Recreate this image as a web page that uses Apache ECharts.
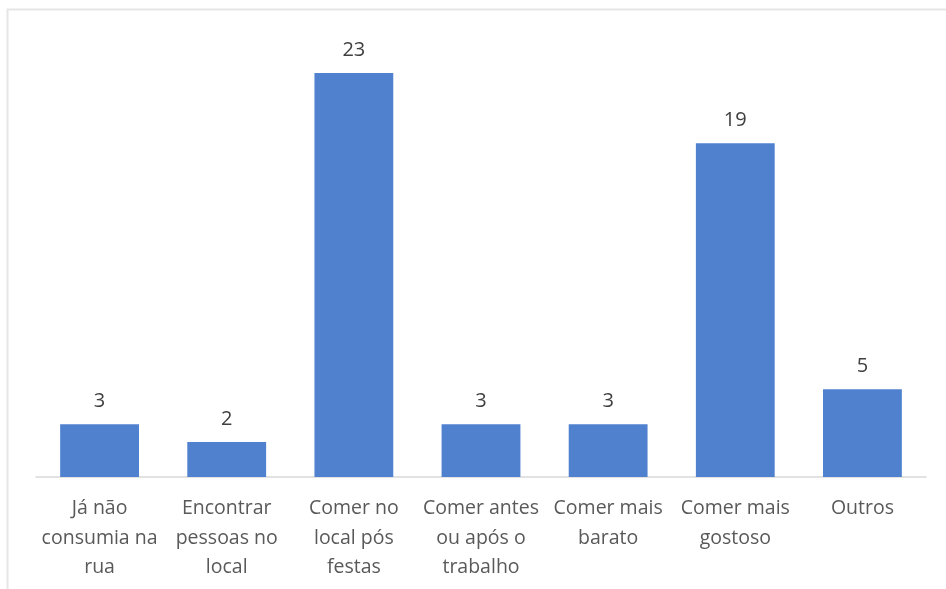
<!DOCTYPE html>
<html>
<head>
<meta charset="utf-8">
<script src="https://cdn.jsdelivr.net/npm/echarts@6/dist/echarts.min.js"></script>
<style>html,body{margin:0;padding:0;background:#fff}#c{width:946px;height:589px}</style>
</head>
<body>
<div id="c"></div>
<script>
const categories = ['Já não\nconsumia na\nrua', 'Encontrar\npessoas no\nlocal', 'Comer no\nlocal pós\nfestas', 'Comer antes\nou após o\ntrabalho', 'Comer mais\nbarato', 'Comer mais\ngostoso', 'Outros'];
const values = [3, 2, 23, 3, 3, 19, 5];

const chart = echarts.init(document.getElementById('c'));
chart.setOption({
  animation: false,
  backgroundColor: '#fff',
  graphic: [{
    type: 'rect', shape: {x: 7.5, y: 9.5, width: 960, height: 600},
    style: {fill: 'none', stroke: '#e6e6e6', lineWidth: 2}, silent: true
  }],
  grid: {left: 36, right: 20, top: 38, bottom: 112},
  xAxis: {
    type: 'category', data: categories,
    axisLine: {lineStyle: {color: '#d9d9d9', width: 1.5}},
    axisTick: {show: false},
    axisLabel: {color: '#595959', fontFamily: 'Open Sans', fontSize: 19.5, lineHeight: 29.5, margin: 17, interval: 0}
  },
  yAxis: {type: 'value', min: 0, max: 25, show: false, splitLine: {show: false}},
  series: [{
    type: 'bar', data: values, barWidth: '62%',
    itemStyle: {color: '#4f81cf'},
    label: {show: true, position: 'top', distance: 13, color: '#404040', fontFamily: 'Open Sans', fontSize: 20}
  }]
});
</script>
</body>
</html>
